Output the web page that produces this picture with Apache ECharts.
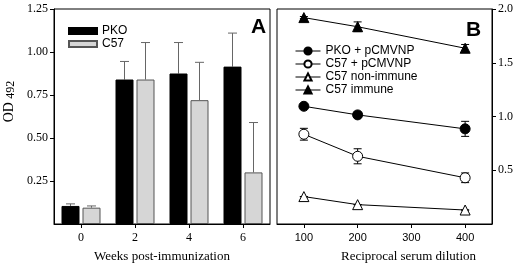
<!DOCTYPE html>
<html>
<head>
<meta charset="utf-8">
<script src="https://cdn.jsdelivr.net/npm/echarts@6/dist/echarts.min.js"></script>
<style>
  html, body { margin: 0; padding: 0; background: #fff; }
  #chart { width: 520px; height: 267px; }
</style>
</head>
<body>
<div id="chart"></div>
<script>
// Panel A: antibody OD by week
const weeks = ['0', '2', '4', '6'];
const pkoMean = [0.105, 0.84, 0.875, 0.915];
const pkoErr = [0.012, 0.105, 0.18, 0.195];
const c57Mean = [0.095, 0.84, 0.72, 0.30];
const c57Err = [0.01, 0.215, 0.22, 0.29];

// Panel B: OD by serum dilution
const dilutions = [100, 200, 400];
const pkoNP = [1.095, 1.015, 0.885];
const pkoNPErr = [0.02, 0.02, 0.07];
const c57NP = [0.835, 0.63, 0.43];
const c57NPErr = [0.055, 0.07, 0.045];
const c57NonImmune = [0.255, 0.18, 0.13];
const c57NonImmuneErr = [0, 0, 0];
const c57Immune = [1.92, 1.835, 1.635];
const c57ImmuneErr = [0.01, 0.045, 0.035];

const SERIF = 'Liberation Serif';
const SANS = 'Liberation Sans';
const BAR_W = 18;
const BAR_GAP = 3;

const chart = echarts.init(document.getElementById('chart'), null, { renderer: 'canvas' });

// one-sided error bar above each bar; offset picks the bar in the group
function barErrorItem(offset) {
  return function (params, api) {
    const cat = api.value(0);
    const lo = api.coord([cat, api.value(1)]);
    const hi = api.coord([cat, api.value(2)]);
    const x = lo[0] + offset;
    return {
      type: 'group',
      children: [
        { type: 'line', shape: { x1: x, y1: lo[1], x2: x, y2: hi[1] }, style: { stroke: '#666', lineWidth: 1 } },
        { type: 'line', shape: { x1: x - 4.5, y1: hi[1], x2: x + 4.5, y2: hi[1] }, style: { stroke: '#666', lineWidth: 1 } }
      ]
    };
  };
}

function lineErrorItem(params, api) {
  const x = api.value(0);
  const lo = api.coord([x, api.value(1)]);
  const hi = api.coord([x, api.value(2)]);
  return {
    type: 'group',
    children: [
      { type: 'line', shape: { x1: lo[0], y1: lo[1], x2: hi[0], y2: hi[1] }, style: { stroke: '#000', lineWidth: 1 } },
      { type: 'line', shape: { x1: lo[0] - 4, y1: lo[1], x2: lo[0] + 4, y2: lo[1] }, style: { stroke: '#000', lineWidth: 1 } },
      { type: 'line', shape: { x1: hi[0] - 4, y1: hi[1], x2: hi[0] + 4, y2: hi[1] }, style: { stroke: '#000', lineWidth: 1 } }
    ]
  };
}

function errData(xs, means, errs) {
  return means.map((m, i) => [xs[i], m - errs[i], m + errs[i]]);
}

const dotSeries = (name, values, symbol, fill) => ({
  name: name,
  type: 'line',
  xAxisIndex: 1,
  yAxisIndex: 1,
  data: dilutions.map((d, i) => [d, values[i]]),
  symbol: symbol,
  symbolSize: 10,
  showSymbol: true,
  lineStyle: { color: '#000', width: 1 },
  itemStyle: { color: fill, borderColor: '#000', borderWidth: 1 },
  z: 3
});

const axisCommon = {
  axisLine: { show: true, lineStyle: { color: '#000', width: 1 } },
  axisTick: { show: true, inside: false, length: 4, lineStyle: { color: '#000' } },
  splitLine: { show: false }
};

const option = {
  backgroundColor: '#fff',
  animation: false,
  title: [
    { text: 'A', left: 246, top: 12, textStyle: { fontFamily: SANS, fontWeight: 'bold', fontSize: 21, color: '#000' } },
    { text: 'B', left: 461, top: 15, textStyle: { fontFamily: SANS, fontWeight: 'bold', fontSize: 21, color: '#000' } }
  ],
  grid: [
    { left: 54, top: 9, width: 216, bottom: 43, show: true, borderColor: '#000', borderWidth: 1, outerBoundsMode: 'none' },
    { left: 277, top: 9, right: 28, bottom: 43, show: true, borderColor: '#000', borderWidth: 1, outerBoundsMode: 'none' }
  ],
  legend: [
    {
      data: ['PKO', 'C57'],
      orient: 'vertical',
      left: 68,
      top: 25,
      padding: 0,
      icon: 'rect',
      itemWidth: 28,
      itemHeight: 6,
      itemGap: 1,
      textStyle: { fontFamily: SANS, fontSize: 12, color: '#000', lineHeight: 12 }
    },
    {
      data: ['PKO + pCMVNP', 'C57 + pCMVNP', 'C57 non-immune', 'C57 immune'],
      orient: 'vertical',
      left: 295,
      top: 45,
      padding: 0,
      itemWidth: 25,
      itemHeight: 9,
      itemGap: 1,
      lineStyle: { width: 1 },
      textStyle: { fontFamily: SANS, fontSize: 12, color: '#000', lineHeight: 12 }
    }
  ],
  xAxis: [
    Object.assign({}, axisCommon, {
      type: 'category',
      gridIndex: 0,
      data: weeks,
      axisTick: { show: true, alignWithLabel: true, length: 4, lineStyle: { color: '#000' } },
      axisLabel: { fontFamily: SERIF, fontSize: 12, color: '#000', margin: 8 },
      name: 'Weeks post-immunization',
      nameLocation: 'middle',
      nameGap: 26,
      nameTextStyle: { fontFamily: SERIF, fontSize: 13, color: '#000' }
    }),
    Object.assign({}, axisCommon, {
      type: 'value',
      gridIndex: 1,
      min: 50,
      max: 450,
      axisTick: { show: true, length: 4, customValues: [100, 200, 300, 400], lineStyle: { color: '#000' } },
      axisLabel: { fontFamily: SANS, fontSize: 11, color: '#000', margin: 8, customValues: [100, 200, 300, 400] },
      name: 'Reciprocal serum dilution',
      nameLocation: 'middle',
      nameGap: 26,
      nameTextStyle: { fontFamily: SERIF, fontSize: 13, color: '#000', padding: [0, 0, 0, 48] }
    })
  ],
  yAxis: [
    Object.assign({}, axisCommon, {
      type: 'value',
      gridIndex: 0,
      min: 0,
      max: 1.25,
      interval: 0.25,
      axisLabel: { fontFamily: SERIF, fontSize: 12, color: '#000', margin: 6, showMinLabel: false, formatter: v => v.toFixed(2) },
      name: 'OD {sub|492}',
      nameLocation: 'middle',
      nameGap: 37,
      nameTextStyle: {
        fontFamily: SERIF, fontSize: 14, color: '#000', padding: [0, 0, 0, 30],
        rich: { sub: { fontFamily: SERIF, fontSize: 12, color: '#000', verticalAlign: 'bottom', padding: [4, 0, 0, 0] } }
      }
    }),
    Object.assign({}, axisCommon, {
      type: 'value',
      gridIndex: 1,
      position: 'right',
      min: 0,
      max: 2,
      interval: 0.5,
      axisLabel: { fontFamily: SERIF, fontSize: 12, color: '#000', margin: 6, showMinLabel: false, formatter: v => v.toFixed(1) }
    })
  ],
  series: [
    {
      name: 'PKO',
      type: 'bar',
      xAxisIndex: 0,
      yAxisIndex: 0,
      data: pkoMean,
      barWidth: BAR_W,
      barGap: (BAR_GAP / BAR_W * 100) + '%',
      itemStyle: { color: '#000', borderColor: '#000', borderWidth: 1 }
    },
    {
      name: 'C57',
      type: 'bar',
      xAxisIndex: 0,
      yAxisIndex: 0,
      data: c57Mean,
      barWidth: BAR_W,
      itemStyle: { color: '#d6d6d6', borderColor: '#555', borderWidth: 1 }
    },
    {
      type: 'custom',
      xAxisIndex: 0,
      yAxisIndex: 0,
      renderItem: barErrorItem(-(BAR_W + BAR_GAP) / 2),
      data: pkoMean.map((m, i) => [i, m, m + pkoErr[i]]),
      z: 1
    },
    {
      type: 'custom',
      xAxisIndex: 0,
      yAxisIndex: 0,
      renderItem: barErrorItem((BAR_W + BAR_GAP) / 2),
      data: c57Mean.map((m, i) => [i, m, m + c57Err[i]]),
      z: 1
    },
    dotSeries('PKO + pCMVNP', pkoNP, 'circle', '#000'),
    dotSeries('C57 + pCMVNP', c57NP, 'circle', '#fff'),
    dotSeries('C57 non-immune', c57NonImmune, 'triangle', '#fff'),
    dotSeries('C57 immune', c57Immune, 'triangle', '#000'),
    { type: 'custom', xAxisIndex: 1, yAxisIndex: 1, renderItem: lineErrorItem, data: errData(dilutions, pkoNP, pkoNPErr), z: 2 },
    { type: 'custom', xAxisIndex: 1, yAxisIndex: 1, renderItem: lineErrorItem, data: errData(dilutions, c57NP, c57NPErr), z: 2 },
    { type: 'custom', xAxisIndex: 1, yAxisIndex: 1, renderItem: lineErrorItem, data: errData(dilutions, c57NonImmune, c57NonImmuneErr), z: 2 },
    { type: 'custom', xAxisIndex: 1, yAxisIndex: 1, renderItem: lineErrorItem, data: errData(dilutions, c57Immune, c57ImmuneErr), z: 2 }
  ]
};

chart.setOption(option);
</script>
</body>
</html>
